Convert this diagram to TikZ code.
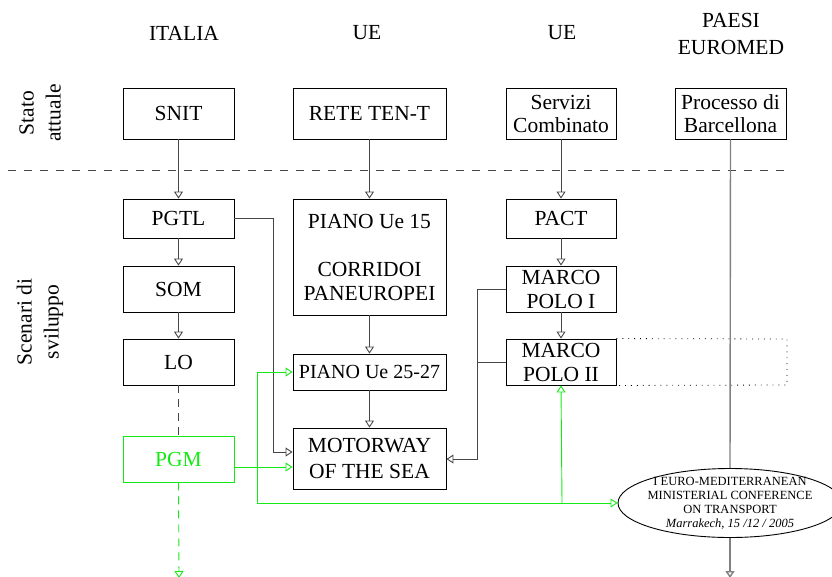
\documentclass[tikz,border=0pt]{standalone}
\usepackage{fontspec}
\setmainfont{Liberation Serif}
\usetikzlibrary{arrows.meta,shapes.geometric}
\definecolor{lgreen}{RGB}{20,235,20}
\definecolor{lgray}{RGB}{70,70,70}
\newcommand\smfont{\fontsize{20}{24}\selectfont}
\begin{document}
\begin{tikzpicture}[x=1pt,y=-1pt,
  box/.style={draw=black, line width=0.9pt, inner sep=0pt, align=center, font=\fontsize{21.5}{24}\selectfont},
  gbox/.style={box, draw=lgreen, text=lgreen},
  conn/.style={draw=lgray, line width=0.9pt, -{Triangle[open,length=7pt,width=9pt]}},
  plain/.style={draw=lgray, line width=0.9pt},
  gconn/.style={draw=lgreen, line width=0.9pt, -{Triangle[open,length=7pt,width=9pt]}},
  hdr/.style={font=\fontsize{21.5}{27}\selectfont, align=center}]
\useasboundingbox (0,0) rectangle (832,576);

% headers
\node[hdr] (h1) at (184,33) {ITALIA};
\node[hdr] (h2) at (367,33) {UE};
\node[hdr] (h3) at (562,33) {UE};
\node[hdr] (h4) at (731,34) {PAESI\\EUROMED};
\node[hdr, rotate=90] (l1) at (40,113) {Stato\\attuale};
\node[hdr, rotate=90] (l2) at (40,322) {Scenari di\\sviluppo};

% separator
\coordinate (s1) at (8,170);
\coordinate (s2) at (787,170);
\draw[lgray, line width=0.8pt, dash pattern=on 8pt off 8pt] (s1) -- (s2);

% top row
\node[box, minimum width=111pt, minimum height=51pt] (snit) at (178.5,113.5) {SNIT};
\node[box, minimum width=153pt, minimum height=51pt] (rete) at (369.5,113.5) {RETE TEN-T};
\node[box, minimum width=110pt, minimum height=51pt] (serv) at (561,113.5) {Servizi\\[-1pt]Combinato};
\node[box, minimum width=111pt, minimum height=51pt] (barc) at (730.5,113.5) {Processo di\\[-1pt]Barcellona};

% italia column
\node[box, minimum width=111pt, minimum height=39pt] (pgtl) at (178.5,218.5) {PGTL};
\node[box, minimum width=111pt, minimum height=46pt] (som) at (178.5,289) {SOM};
\node[box, minimum width=111pt, minimum height=46pt] (lo) at (178.5,362) {LO};
\node[gbox, minimum width=111pt, minimum height=46pt] (pgm) at (178.5,459) {PGM};

% UE column
\node[box, minimum width=153pt, minimum height=116pt] (p15) at (369.5,257) {PIANO Ue 15\\[24pt]CORRIDOI\\PANEUROPEI};
\node[box, minimum width=153pt, minimum height=36pt] (p25) at (369.5,372) {\smfont PIANO Ue 25-27};
\node[box, minimum width=153pt, minimum height=61pt] (mos) at (369.5,458.5) {MOTORWAY\\[2pt]OF THE SEA};

% UE column 2
\node[box, minimum width=110pt, minimum height=39pt] (pact) at (561,218.5) {PACT};
\node[box, minimum width=110pt, minimum height=46pt] (mp1) at (561,289) {MARCO\\POLO I};
\node[box, minimum width=110pt, minimum height=46pt] (mp2) at (561,362) {MARCO\\POLO II};

% ellipse
\node[draw=black, line width=0.9pt, ellipse, minimum width=224pt, minimum height=69pt, inner xsep=-12pt, inner ysep=-8pt, align=center, font=\fontsize{12.5}{14}\selectfont] (conf) at (730,503)
  {I EURO-MEDITERRANEAN\\MINISTERIAL CONFERENCE\\ON TRANSPORT\\\textit{Marrakech, 15 /12 / 2005}};

% dotted rectangle
\coordinate (d1) at (787,339);
\coordinate (d2) at (787,385);
\draw[black, line width=0.8pt, dash pattern=on 0.9pt off 5pt] (mp2.north east) -- (d1) -- (d2) -- (mp2.south east);

% vertical connectors
\draw[conn] (snit.south) -- (pgtl.north);
\draw[conn] (rete.south) -- (p15.north);
\draw[conn] (serv.south) -- (pact.north);
\draw[conn] (pgtl.south) -- (som.north);
\draw[conn] (som.south) -- (lo.north);
\draw[conn] (p15.south) -- (p25.north);
\draw[conn] (p25.south) -- (mos.north);
\draw[conn] (pact.south) -- (mp1.north);
\draw[conn] (mp1.south) -- (mp2.north);
\draw[lgray, line width=0.8pt, dash pattern=on 8pt off 6pt] (lo.south) -- (pgm.north);
\coordinate (pgmend) at (179,578);
\draw[gconn, dash pattern=on 8pt off 6pt] (pgm.south) -- (pgmend);

% barcellona line
\draw[gray, line width=1.4pt] (barc.south) -- (conf.north);
\coordinate (confend) at (730,578);
\draw[conn, draw=gray, line width=1.4pt] (conf.south) -- (confend);

% PGTL -> MOTORWAY
\draw[conn] (pgtl.east) -- (273,218.5) -- (273,452) -- (mos.west |- 0,452);
% MARCO POLO -> MOTORWAY
\draw[plain] (mp1.west) -- (477,289) -- (477,362);
\draw[plain] (mp2.west) -- (477,362);
\draw[conn] (477,289) -- (477,459) -- (mos.east |- 0,459);

% green
\draw[gconn] (pgm.east |- 0,467) -- (mos.west |- 0,467);
\draw[gconn] (257,503) -- (257,372) -- (p25.west);
\draw[gconn] (257,503) -- (conf.west);
\draw[gconn] (562,503) -- (mp2.south);
\end{tikzpicture}
\end{document}
